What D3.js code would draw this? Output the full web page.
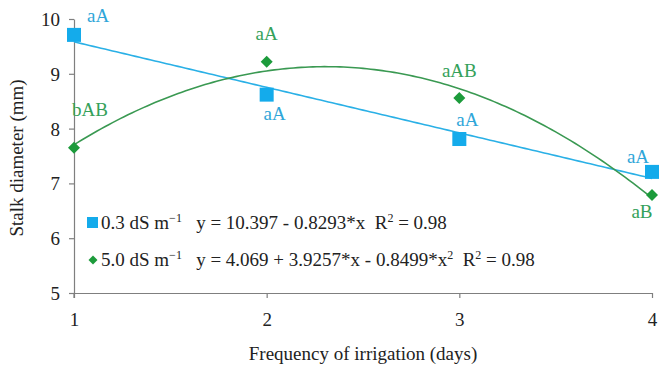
<!DOCTYPE html>
<html>
<head>
<meta charset="utf-8">
<script src="https://cdn.jsdelivr.net/npm/d3@7"></script>
<style>
  html, body { margin: 0; padding: 0; background: #fff; }
</style>
</head>
<body>
<svg id="chart" width="659" height="373"></svg>
<script>
// Irrigation frequency (days) on the x axis
const days = [1, 2, 3, 4];
// Mean stalk diameter (mm) for each salinity level
const low = [9.71, 8.62, 7.81, 7.21];   // 0.3 dS m-1
const high = [7.65, 9.22, 8.56, 6.79];  // 5.0 dS m-1
// Mean-comparison letters
const lowLetters = ["aA", "aA", "aA", "aA"];
const highLetters = ["bAB", "aA", "aAB", "aB"];
// Axis ticks
const xTicks = [1, 2, 3, 4];
const yTicks = [5, 6, 7, 8, 9, 10];
// Legend names and fitted equations
const seriesNames = ["0.3 dS m", "5.0 dS m"];
const equations = ["y = 10.397 - 0.8293*x", "y = 4.069 + 3.9257*x - 0.8499*x"];
const r2 = ["0.98", "0.98"];

const blue = "#14ABEB", blueLine = "#2AB0E6", blueText = "#2FA6D9";
const green = "#1C9B3B", greenLine = "#3A9952", greenText = "#34A15A";
const FONT = "Liberation Serif";
const FS = 19;

const svg = d3.select("#chart");
const x = d3.scaleLinear().domain([1, 4]).range([74, 652]);
const y = d3.scaleLinear().domain([5, 10]).range([293, 19]);

// Least-squares polynomial fit (degree 1 or 2) of the plotted means
function polyFit(xs, ys, deg) {
  const n = deg + 1;
  const A = Array.from({length: n}, () => new Array(n + 1).fill(0));
  xs.forEach((xv, k) => {
    for (let i = 0; i < n; i++) {
      for (let j = 0; j < n; j++) A[i][j] += Math.pow(xv, i + j);
      A[i][n] += ys[k] * Math.pow(xv, i);
    }
  });
  for (let i = 0; i < n; i++) {
    for (let r = i + 1; r < n; r++) {
      const f = A[r][i] / A[i][i];
      for (let c = i; c <= n; c++) A[r][c] -= f * A[i][c];
    }
  }
  const coef = new Array(n).fill(0);
  for (let i = n - 1; i >= 0; i--) {
    let s = A[i][n];
    for (let j = i + 1; j < n; j++) s -= A[i][j] * coef[j];
    coef[i] = s / A[i][i];
  }
  return xv => coef.reduce((acc, c, i) => acc + c * Math.pow(xv, i), 0);
}

const fitLow = polyFit(days, low, 1);
const fitHigh = polyFit(days, high, 2);
const xs = d3.range(1, 4.0001, 0.02);
const line = d3.line().x(d => x(d[0])).y(d => y(d[1]));

// Axes
const axisColor = "#7f7f7f";
const yAxis = svg.append("g").attr("transform", `translate(${x(1)},0)`)
  .call(d3.axisLeft(y).tickValues(yTicks).tickSize(5).tickSizeOuter(0).tickFormat(d3.format("d")));
const xAxis = svg.append("g").attr("transform", `translate(0,${y(5)})`)
  .call(d3.axisBottom(x).tickValues(xTicks).tickSize(5).tickSizeOuter(0).tickFormat(d3.format("d")));
[yAxis, xAxis].forEach(g => {
  g.attr("font-family", null).attr("font-size", null);
  g.select(".domain").attr("stroke", axisColor).attr("stroke-width", 1.2);
  g.selectAll(".tick line").attr("stroke", axisColor).attr("stroke-width", 1.2);
  g.selectAll(".tick text").attr("fill", "#222");
});
yAxis.selectAll(".tick text").attr("x", -14).attr("dy", "0.34em");
xAxis.selectAll(".tick text").attr("y", 20).attr("dy", "0.71em");
// y axis extends a little below the x axis
svg.append("line").attr("x1", x(1)).attr("x2", x(1)).attr("y1", y(5)).attr("y2", y(5) + 5)
  .attr("stroke", axisColor).attr("stroke-width", 1.2);

// Axis titles
svg.append("text").attr("x", 363).attr("y", 360).attr("text-anchor", "middle")
  .attr("fill", "#222").text("Frequency of irrigation (days)");
svg.append("text").attr("transform", "translate(23,158) rotate(-90)").attr("text-anchor", "middle")
  .attr("fill", "#222").text("Stalk diameter (mm)");

// Trend lines
svg.append("path").datum(xs.map(v => [v, fitLow(v)])).attr("d", line)
  .attr("fill", "none").attr("stroke", blueLine).attr("stroke-width", 1.6);
svg.append("path").datum(xs.map(v => [v, fitHigh(v)])).attr("d", line)
  .attr("fill", "none").attr("stroke", greenLine).attr("stroke-width", 1.6);

// Markers
const sq = 14, dm = 12;
svg.append("g").selectAll("rect").data(days).join("rect")
  .attr("x", (d) => x(d) - sq / 2).attr("y", (d, i) => y(low[i]) - sq / 2)
  .attr("width", sq).attr("height", sq).attr("fill", blue);
const diamond = d3.symbol().type(d3.symbolSquare).size(dm * dm / 2);
svg.append("g").selectAll("path").data(days).join("path")
  .attr("d", diamond)
  .attr("transform", (d, i) => `translate(${x(d)},${y(high[i])}) rotate(45)`)
  .attr("fill", green);

// Letter labels (offsets in px relative to each point)
const lowOff = [[13, -13, "start"], [8, 25, "middle"], [8, -13, "middle"], [-14, -9, "middle"]];
const highOff = [[-2, -32, "start"], [0, -22, "middle"], [0, -21, "middle"], [-10, 23, "middle"]];
svg.append("g").selectAll("text").data(days).join("text")
  .attr("x", (d, i) => x(d) + lowOff[i][0]).attr("y", (d, i) => y(low[i]) + lowOff[i][1])
  .attr("text-anchor", (d, i) => lowOff[i][2])
  .attr("fill", blueText).text((d, i) => lowLetters[i]);
svg.append("g").selectAll("text").data(days).join("text")
  .attr("x", (d, i) => x(d) + highOff[i][0]).attr("y", (d, i) => y(high[i]) + highOff[i][1])
  .attr("text-anchor", (d, i) => highOff[i][2])
  .attr("fill", greenText).text((d, i) => highLetters[i]);

// Legend with fitted equations
const legendRows = [
  {name: seriesNames[0], eq: equations[0], sup: false, r: r2[0], color: blue, shape: "square", yy: 223},
  {name: seriesNames[1], eq: equations[1], sup: true, r: r2[1], color: green, shape: "diamond", yy: 260}
];
legendRows.forEach(row => {
  if (row.shape === "square") {
    svg.append("rect").attr("x", 87).attr("y", row.yy - 6).attr("width", 11).attr("height", 11).attr("fill", row.color);
  } else {
    svg.append("path").attr("d", d3.symbol().type(d3.symbolSquare).size(40))
      .attr("transform", `translate(93,${row.yy}) rotate(45)`).attr("fill", row.color);
  }
  const t = svg.append("text").attr("x", 101).attr("y", row.yy + 6)
    .attr("fill", "#222").attr("xml:space", "preserve");
  t.append("tspan").text(row.name);
  t.append("tspan").attr("dy", -7).attr("font-size", 12).text("\u2212" + "1");
  t.append("tspan").attr("dy", 7).text("   " + row.eq);
  if (row.sup) {
    t.append("tspan").attr("dy", -7).attr("font-size", 12).text("2");
    t.append("tspan").attr("dy", 7).text("  R");
  } else {
    t.append("tspan").text("  R");
  }
  t.append("tspan").attr("dy", -7).attr("font-size", 12).text("2");
  t.append("tspan").attr("dy", 7).text(" = " + row.r);
});

// Serif face applied directly on every text element
svg.selectAll("text").attr("font-family", FONT).each(function () {
  if (!this.getAttribute("font-size")) this.setAttribute("font-size", FS);
});
</script>
</body>
</html>
